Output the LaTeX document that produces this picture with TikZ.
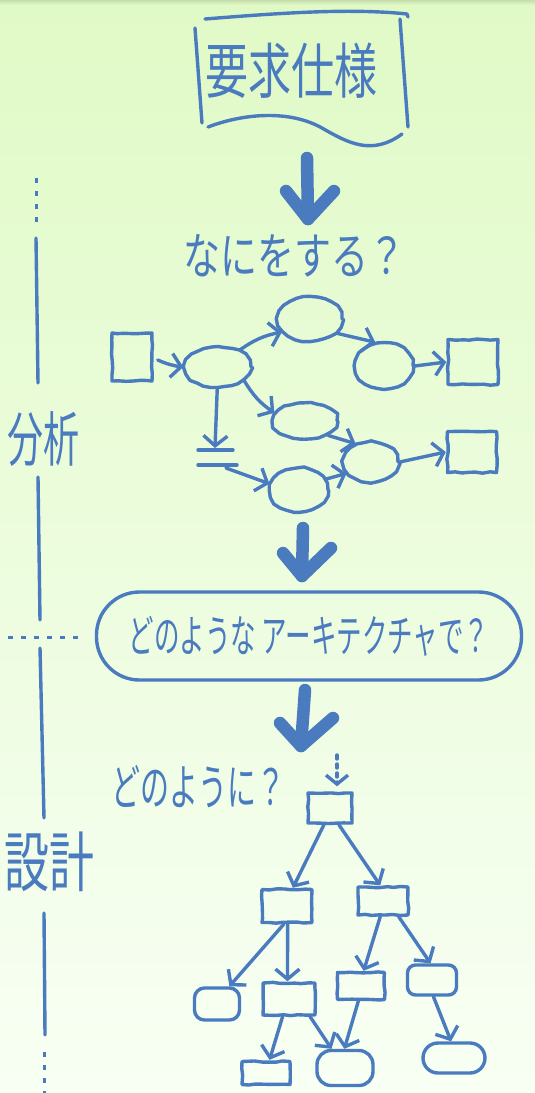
\documentclass[tikz,border=0pt]{standalone}
\usepackage{fontspec}
\newfontfamily\jp{Noto Sans CJK JP}
\usetikzlibrary{shapes.geometric,arrows.meta,decorations.pathmorphing,calc}
\definecolor{pen}{RGB}{74,123,191}
\definecolor{bgtop}{RGB}{224,250,198}
\definecolor{bgbot}{RGB}{248,255,244}
\definecolor{bgedge}{RGB}{198,222,172}

\begin{document}
\pgfmathsetseed{7}
\begin{tikzpicture}[x=1pt,y=-1pt,
  pen/.style={draw=pen, line width=3.4pt, line cap=round, line join=round},
  wobbly/.style={decorate, decoration={random steps, segment length=7pt, amplitude=0.7pt}},
  oval/.style={pen, ellipse, inner sep=0pt, wobbly},
  box/.style={pen, rectangle, inner sep=0pt, wobbly},
  rbox/.style={pen, rectangle, inner sep=0pt, rounded corners=#1},
  flow/.style={pen, -{Straight Barb[length=10pt,width=24pt]}},
  bigarrow/.style={draw=pen, line width=12.5pt, line cap=round, line join=round},
  dots/.style={draw=pen, line width=3pt, line cap=butt, dash pattern=on 5pt off 8pt},
  jtext/.style={text=pen, inner sep=0pt},
]
\useasboundingbox (0,0) rectangle (535,1093);

% paper
\shade[top color=bgtop, bottom color=bgbot] (0,0) rectangle (535,1093);
\shade[top color=bgedge, bottom color=bgtop] (0,0) rectangle (535,5);

% ---- phase line on the left ----
\draw[dots] (36,178) -- (36,225);
\draw[pen] (36,238) -- (38,383);
\node[jtext, font={\jp\fontsize{36}{40}\selectfont}] (bunseki) at (43,439) {\scalebox{1}[1.65]{分析}};
\draw[pen] (38,477) -- (40,620);
\draw[dots] (8,637) -- (82,637);
\draw[pen] (40,648) -- (44,818);
\node[jtext, font={\jp\fontsize{45}{50}\selectfont}] (sekkei) at (50,862) {\scalebox{1}[1.45]{設計}};
\draw[pen] (44,913) -- (45,1035);
\draw[dots] (44,1052) -- (44,1093);

% ---- requirements document ----
\draw[pen] (205,19) .. controls (280,13) and (350,8) .. (407,14) -- (408,17);
\draw[pen] (195,28) -- (202,123);
\draw[pen] (400,19) -- (408,127);
\draw[pen] (208,127) .. controls (245,113) and (290,110) .. (322,128)
  .. controls (348,143) and (372,156) .. (402,134);
\node[jtext, font={\jp\fontsize{43}{48}\selectfont}] (req) at (291,71) {\scalebox{1}[1.4]{要求仕様}};

% ---- step 1 ----
\coordinate (a1s) at (307,158);
\coordinate (a1e) at (308,219);
\draw[bigarrow] (a1s) -- (a1e);
\draw[bigarrow] ($(a1e)+(-22,-28)$) -- (a1e) -- ($(a1e)+(26,-28)$);

\node[jtext, font={\jp\fontsize{37}{40}\selectfont}] (what) at (294,256) {\scalebox{1}[1.35]{なにをする？}};

% analysis graph
\node[box, minimum width=40pt, minimum height=48pt] (sq1) at (132,357) {};
\node[oval, minimum width=66pt, minimum height=40pt] (eA) at (218,367) {};
\node[oval, minimum width=64pt, minimum height=44pt] (eB) at (310,319) {};
\node[oval, minimum width=58pt, minimum height=46pt] (eC) at (384,366) {};
\node[box, minimum width=50pt, minimum height=45pt] (sq2) at (473,362) {};
\node[oval, minimum width=64pt, minimum height=36pt] (eD) at (305,421) {};
\node[oval, minimum width=54pt, minimum height=40pt] (eE) at (371,462) {};
\node[box, minimum width=49pt, minimum height=41pt] (sq3) at (472,452) {};
\node[oval, minimum width=58pt, minimum height=44pt] (eF) at (299,490) {};
\coordinate (b1l) at (198,450); \coordinate (b1r) at (233,450); \coordinate (b1m) at (215,448);
\coordinate (b2l) at (198,465); \coordinate (b2r) at (237,465); \coordinate (b2m) at (226,468);
\draw[pen] (b1l) -- (b1r);
\draw[pen] (b2l) -- (b2r);

\draw[flow] ($(sq1.east)+(4,3)$) to[bend right=8] (eA.west);
\draw[flow] (eA.38) to[bend left=12] (eB.205);
\draw[flow] (eB.-28) -- (eC.110);
\draw[flow] (eC.east) -- (sq2.west);
\draw[flow] (eA.-28) to[bend right=12] (eD.165);
\draw[flow] (eD.-32) -- (eE.130);
\draw[flow] (eE.east) -- (sq3.west);
\draw[flow] (eF.22) -- (eE.205);
\draw[flow] (eA.-92) -- (b1m);
\draw[flow] (b2m) -- (eF.168);

% ---- step 2 ----
\coordinate (a2s) at (303,528);
\coordinate (a2e) at (302,576);
\draw[bigarrow] (a2s) -- (a2e);
\draw[bigarrow] ($(a2e)+(-19,-23)$) -- (a2e) -- ($(a2e)+(29,-28)$);

\node[pen, rounded corners=43pt, minimum width=425pt, minimum height=88pt,
      text=pen, inner sep=0pt, font={\jp\fontsize{25.5}{30}\selectfont}]
  (arch) at (309,636) {\scalebox{1}[1.75]{どのような アーキテクチャで？}};

% ---- step 3 ----
\coordinate (a3s) at (305,690);
\coordinate (a3e) at (301,746);
\draw[bigarrow] (a3s) -- (a3e);
\draw[bigarrow] ($(a3e)+(-21,-23)$) -- (a3e) -- ($(a3e)+(32,-28)$);

\node[jtext, font={\jp\fontsize{29}{34}\selectfont}] (how) at (198,787) {\scalebox{1}[1.7]{どのように？}};

% design tree
\node[box, minimum width=44pt, minimum height=30pt] (r) at (330,808) {};
\node[box, minimum width=50pt, minimum height=33pt] (c1) at (287,906) {};
\node[box, minimum width=50pt, minimum height=28pt] (c2) at (383,901) {};
\node[rbox=10pt, minimum width=45pt, minimum height=32pt] (g1) at (217,1004) {};
\node[box, minimum width=52pt, minimum height=32pt] (g2) at (289,999) {};
\node[box, minimum width=47pt, minimum height=27pt] (g3) at (361,986) {};
\node[rbox=8pt, minimum width=49pt, minimum height=30pt] (g4) at (432,980) {};
\node[box, minimum width=48pt, minimum height=23pt] (h1) at (266,1073) {};
\node[rbox=14pt, minimum width=56pt, minimum height=35pt] (h2) at (345,1068) {};
\node[rbox=15pt, minimum width=62pt, minimum height=30pt] (h3) at (454,1058) {};

\coordinate (entry) at (337,755);
\draw[pen, dash pattern=on 4pt off 5pt, -{Straight Barb[length=9pt,width=22pt]}] (entry) -- ($(r.north)+(7,-5)$);
\draw[flow] (r.-110) -- (c1.72);
\draw[flow] (r.-62) -- (c2.100);
\draw[flow] (c1.-100) -- (g1.55);
\draw[flow] (c1.-88) -- (g2.95);
\draw[flow] (c2.-100) -- (g3.80);
\draw[flow] (c2.-45) -- (g4.95);
\draw[flow] (g2.-110) -- (h1.75);
\draw[flow] (g2.-40) -- (h2.125);
\draw[flow] (g3.-100) -- (h2.92);
\draw[flow] (g4.-85) -- (h3.100);
\end{tikzpicture}
\end{document}
